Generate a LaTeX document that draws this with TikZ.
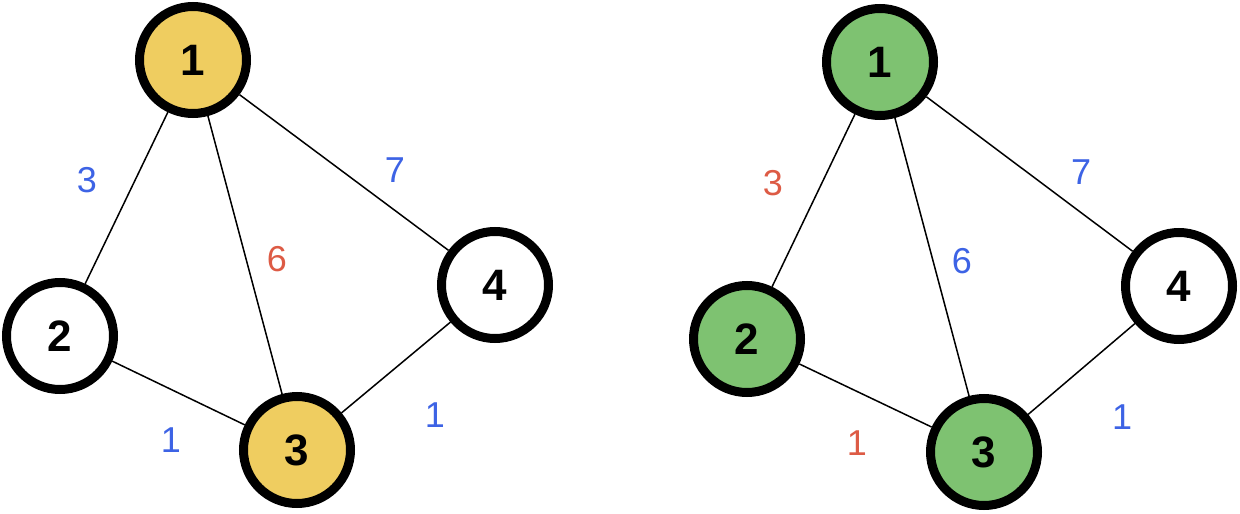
\documentclass[tikz,border=0pt]{standalone}
\usepackage{fontspec}
\setmainfont{Liberation Sans}
\definecolor{nodeyellow}{HTML}{EFCD60}
\definecolor{nodegreen}{HTML}{7EC271}
\definecolor{lblblue}{HTML}{3D63E5}
\definecolor{lblred}{HTML}{DD5B45}
\tikzset{
  vert/.style={circle, draw=black, line width=9pt, minimum size=107pt, inner sep=0pt,
    font=\fontsize{44}{44}\selectfont\bfseries, text=black, fill=white},
  yel/.style={vert, fill=nodeyellow},
  grn/.style={vert, fill=nodegreen},
  edge/.style={draw=black, line width=1.5pt},
  wlbl/.style={font=\fontsize{36}{36}\selectfont, inner sep=0pt},
  wblue/.style={wlbl, text=lblblue},
  wred/.style={wlbl, text=lblred}
}
\begin{document}
\begin{tikzpicture}[x=1pt, y=-1pt]
\useasboundingbox (0,0) rectangle (1240,514);
% left graph
\node[yel]  (a1) at (193,60)  {1};
\node[vert] (a2) at (60,336)  {2};
\node[yel]  (a3) at (297,450) {3};
\node[vert] (a4) at (495,285) {4};
\draw[edge] (a1) -- (a2);
\draw[edge] (a1) -- (a3);
\draw[edge] (a1) -- (a4);
\draw[edge] (a2) -- (a3);
\draw[edge] (a3) -- (a4);
\node[wblue] (la12) at (87,180)  {3};
\node[wblue] (la14) at (395,170) {7};
\node[wred]  (la13) at (277,259) {6};
\node[wblue] (la23) at (171,440) {1};
\node[wblue] (la34) at (435,415) {1};
% right graph
\node[grn]  (b1) at (880,62)   {1};
\node[grn]  (b2) at (747,339)  {2};
\node[grn]  (b3) at (984,452)  {3};
\node[vert] (b4) at (1179,286) {4};
\draw[edge] (b1) -- (b2);
\draw[edge] (b1) -- (b3);
\draw[edge] (b1) -- (b4);
\draw[edge] (b2) -- (b3);
\draw[edge] (b3) -- (b4);
\node[wred]  (lb12) at (773,183)  {3};
\node[wblue] (lb14) at (1081,172) {7};
\node[wblue] (lb13) at (962,261)  {6};
\node[wred]  (lb23) at (857,443)  {1};
\node[wblue] (lb34) at (1122,417) {1};
\end{tikzpicture}
\end{document}
